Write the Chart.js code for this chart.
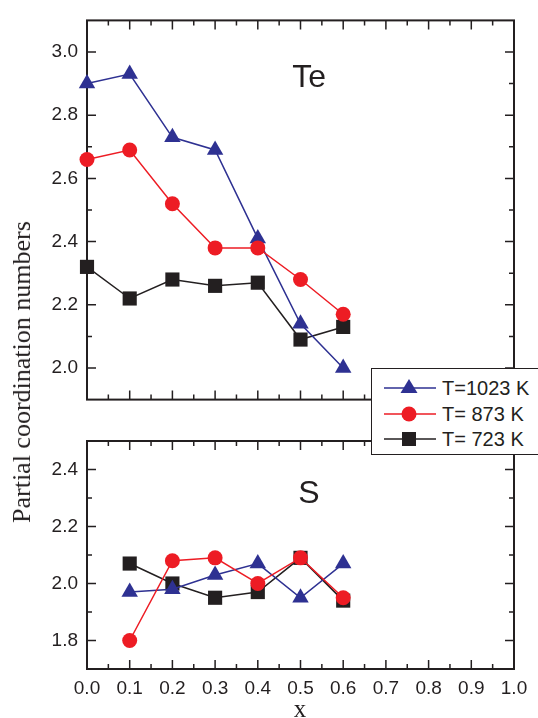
<!DOCTYPE html>
<html>
<head>
<meta charset="utf-8">
<script src="https://cdn.jsdelivr.net/npm/chart.js@4.4.1/dist/chart.umd.min.js"></script>
<style>
  body { margin: 0; background: #fff; }
  #wrap { position: relative; width: 538px; height: 718px; overflow: hidden; background: #fff; }
  .box { position: absolute; left: 0; width: 538px; }
  #ylabel {
    position: absolute; left: 22px; top: 372px; white-space: nowrap;
    transform: translate(-50%, -50%) rotate(-90deg);
    font: 26px "Liberation Serif", serif; color: #231f20;
  }
  #xlabel {
    position: absolute; left: 300px; top: 709px; transform: translate(-50%, -50%);
    font: 25px "Liberation Serif", serif; color: #231f20;
  }
  #legend {
    position: absolute; left: 371px; top: 368px; width: 180px; height: 85px;
    border: 1.5px solid #231f20; background: #fff;
  }
  .row { position: absolute; left: 10px; height: 24px; display: flex; align-items: center; }
  .row span { font: 20px "Liberation Sans", Arial, sans-serif; color: #231f20; margin-left: 4px; }
</style>
</head>
<body>
<div id="wrap">
  <div class="box" style="top:0;height:420px"><canvas id="teChart"></canvas></div>
  <div class="box" style="top:420px;height:298px"><canvas id="sChart"></canvas></div>
  <div id="ylabel">Partial coordination numbers</div>
  <div id="xlabel">x</div>
  <div id="legend"></div>
</div>
<script>
// === DATOS ===
const seriesNames = ["T=1023 K", "T= 873 K", "T= 723 K"];
const seriesColors = ["#2e3192", "#ed1c24", "#231f20"];
const seriesMarkers = ["triangle", "circle", "rect"];

// Te (x = 0.0 ... 0.6)
const teX = [0.0, 0.1, 0.2, 0.3, 0.4, 0.5, 0.6];
const te1023 = [2.90, 2.93, 2.73, 2.69, 2.41, 2.14, 2.00];
const te873 = [2.66, 2.69, 2.52, 2.38, 2.38, 2.28, 2.17];
const te723 = [2.32, 2.22, 2.28, 2.26, 2.27, 2.09, 2.13];

// S (x = 0.1 ... 0.6)
const sX = [0.1, 0.2, 0.3, 0.4, 0.5, 0.6];
const s1023 = [1.97, 1.98, 2.03, 2.07, 1.95, 2.07];
const s873 = [1.80, 2.08, 2.09, 2.00, 2.09, 1.95];
const s723 = [2.07, 2.00, 1.95, 1.97, 2.09, 1.94];

// ticks
const xTicks = [0.0, 0.1, 0.2, 0.3, 0.4, 0.5, 0.6, 0.7, 0.8, 0.9, 1.0];
const teTicks = [2.0, 2.2, 2.4, 2.6, 2.8, 3.0];
const sTicks = [1.8, 2.0, 2.2, 2.4];

const INK = "#231f20";
const tickFont = { family: "'Liberation Sans', Arial, sans-serif", size: 19 };

// === FUNCIONES ===
function pts(xs, ys) {
  return xs.map((x, i) => ({ x: x, y: ys[i] }));
}

function makeDatasets(xs, series) {
  const drawOrder = [1, 0, 2]; // rojo encima
  return series.map((ys, i) => ({
    label: seriesNames[i],
    data: pts(xs, ys),
    borderColor: seriesColors[i],
    backgroundColor: seriesColors[i],
    borderWidth: 1.5,
    pointStyle: seriesMarkers[i],
    pointRadius: [9.5, 7.5, 10][i],
    pointBorderWidth: 0,
    pointBackgroundColor: seriesColors[i],
    order: drawOrder[i],
    clip: false
  }));
}

// marco y ticks hacia adentro (estilo Origin)
const framePlugin = {
  id: "frame",
  beforeDatasetsDraw(chart) {
    const { ctx, chartArea: a, scales } = chart;
    const x = scales.x, y = scales.y;
    ctx.save();
    ctx.strokeStyle = INK;
    ctx.lineWidth = 1.5;
    ctx.beginPath();
    for (let i = 1; i < 20; i++) {
      const px = x.getPixelForValue(i * 0.05);
      const len = i % 2 === 0 ? 9 : 5;
      ctx.moveTo(px, a.bottom); ctx.lineTo(px, a.bottom - len);
      ctx.moveTo(px, a.top); ctx.lineTo(px, a.top + len);
    }
    const n0 = Math.round(y.min * 10), n1 = Math.round(y.max * 10);
    for (let n = n0 + 1; n < n1; n++) {
      const py = y.getPixelForValue(n / 10);
      const len = n % 2 === 0 ? 9 : 5;
      ctx.moveTo(a.left, py); ctx.lineTo(a.left + len, py);
      ctx.moveTo(a.right, py); ctx.lineTo(a.right - len, py);
    }
    ctx.stroke();
    ctx.lineWidth = 2;
    ctx.strokeRect(a.left, a.top, a.right - a.left, a.bottom - a.top);
    ctx.restore();
  }
};

// etiqueta del panel (Te / S)
const panelLabelPlugin = {
  id: "panelLabel",
  afterDraw(chart, args, opts) {
    const { ctx, chartArea: a } = chart;
    ctx.save();
    ctx.fillStyle = INK;
    ctx.font = "32px 'Liberation Sans', Arial, sans-serif";
    ctx.textAlign = "center";
    ctx.textBaseline = "middle";
    const px = chart.scales.x.getPixelForValue(0.52);
    ctx.fillText(opts.text, px, a.top + opts.dy);
    ctx.restore();
  }
};

function makeChart(id, xs, series, yMin, yMax, yTicks, showX, xHeight, padTop, label, labelDy) {
  const ctx = document.getElementById(id).getContext("2d");
  return new Chart(ctx, {
    type: "line",
    data: { datasets: makeDatasets(xs, series) },
    options: {
      responsive: true,
      maintainAspectRatio: false,
      animation: false,
      layout: { padding: { top: padTop, right: 24, bottom: 0, left: 0 } },
      plugins: {
        legend: { display: false },
        tooltip: { enabled: false },
        panelLabel: { text: label, dy: labelDy }
      },
      scales: {
        x: {
          type: "linear",
          min: 0, max: 1,
          grid: { display: false, drawTicks: false },
          border: { display: false },
          afterBuildTicks: (s) => { s.ticks = xTicks.map((v) => ({ value: v })); },
          afterFit: (s) => { s.height = xHeight; },
          ticks: {
            display: showX,
            color: INK,
            font: tickFont,
            padding: 8,
            maxRotation: 0,
            callback: (v) => Number(v).toFixed(1)
          }
        },
        y: {
          min: yMin, max: yMax,
          grid: { display: false, drawTicks: false },
          border: { display: false },
          afterBuildTicks: (s) => { s.ticks = yTicks.map((v) => ({ value: v })); },
          afterFit: (s) => { s.width = 87; },
          ticks: {
            color: INK,
            font: tickFont,
            padding: 9,
            callback: (v) => Number(v).toFixed(1)
          }
        }
      }
    },
    plugins: [framePlugin, panelLabelPlugin]
  });
}

function buildLegend() {
  const el = document.getElementById("legend");
  const tops = [7, 33, 58];
  seriesNames.forEach((name, i) => {
    const c = seriesColors[i];
    let marker = "";
    if (seriesMarkers[i] === "triangle") marker = `<polygon points="27,2 35.5,16 18.5,16" fill="${c}"/>`;
    else if (seriesMarkers[i] === "circle") marker = `<circle cx="27" cy="11" r="7.5" fill="${c}"/>`;
    else marker = `<rect x="20" y="4" width="14" height="14" fill="${c}"/>`;
    const row = document.createElement("div");
    row.className = "row";
    row.style.top = tops[i] + "px";
    row.innerHTML = `<svg width="56" height="22"><line x1="2" y1="11" x2="54" y2="11" stroke="${c}" stroke-width="1.5"/>${marker}</svg><span>${name}</span>`;
    el.appendChild(row);
  });
}

// === GRÁFICAS ===
makeChart("teChart", teX, [te1023, te873, te723], 1.9, 3.1, teTicks, false, 18, 15, "Te", 58);
makeChart("sChart", sX, [s1023, s873, s723], 1.7, 2.5, sTicks, true, 49, 21, "S", 53);
buildLegend();
</script>
</body>
</html>
